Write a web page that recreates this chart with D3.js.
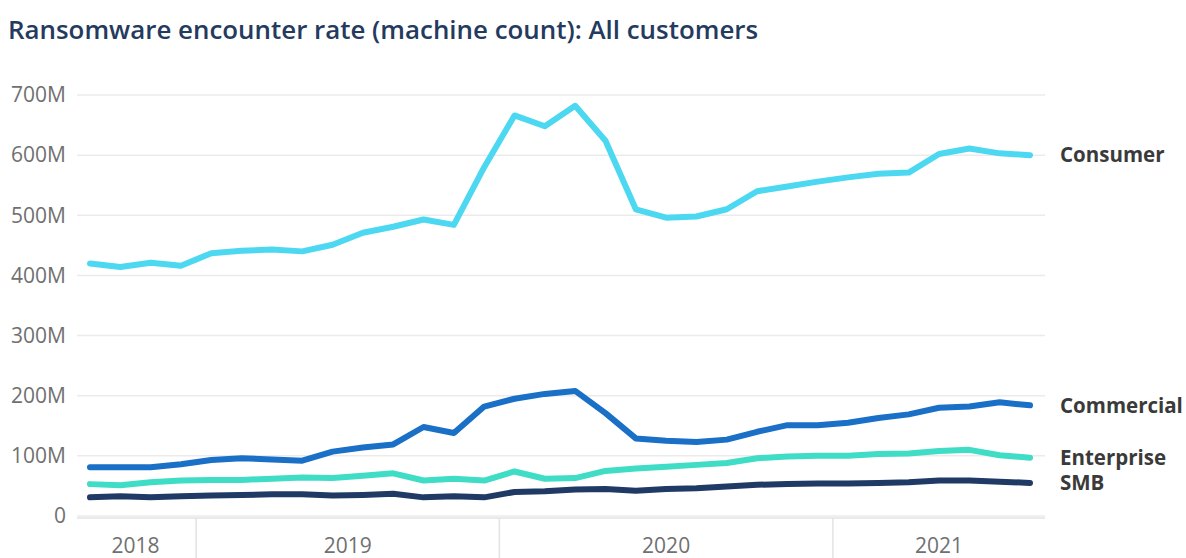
<!DOCTYPE html>
<html>
<head>
<meta charset="utf-8">
<script src="https://cdn.jsdelivr.net/npm/d3@7"></script>
<style>
  body { margin: 0; background: #fff; }
  #chart { width: 1186px; height: 558px; }
  text { font-family: "Open Sans", "Noto Sans", sans-serif; }
</style>
</head>
<body>
<div id="chart"></div>
<script>
// periods grouped by year (as shown on the hierarchical axis)
const periods = [
  "2018-a", "2018-b", "2018-c", "2018-d",
  "2019-a", "2019-b", "2019-c", "2019-d", "2019-e", "2019-f", "2019-g", "2019-h", "2019-i", "2019-j",
  "2020-a", "2020-b", "2020-c", "2020-d", "2020-e", "2020-f", "2020-g", "2020-h", "2020-i", "2020-j", "2020-k",
  "2021-a", "2021-b", "2021-c", "2021-d", "2021-e", "2021-f", "2021-g"
];
const years = ["2018", "2019", "2020", "2021"];

// values in millions of machines
const consumer = [420, 414, 421, 416, 437, 441, 443, 440, 451, 471, 481, 493, 484, 580, 666, 648,
  682, 624, 510, 496, 498, 510, 540, 548, 556, 563, 569, 571, 602, 611, 603, 600];
const commercial = [81, 81, 81, 86, 93, 96, 94, 92, 107, 114, 119, 148, 138, 182, 195, 203,
  208, 171, 129, 125, 123, 127, 140, 151, 151, 155, 163, 169, 180, 182, 189, 184];
const enterprise = [53, 51, 56, 59, 60, 60, 62, 64, 63, 67, 71, 59, 62, 59, 74, 62,
  63, 75, 79, 82, 85, 88, 96, 99, 100, 100, 103, 104, 108, 110, 101, 97];
const smb = [31, 33, 31, 33, 34, 35, 36, 36, 34, 35, 37, 31, 33, 31, 40, 41,
  44, 45, 42, 45, 46, 49, 52, 53, 54, 54, 55, 56, 59, 59, 57, 55];

const seriesNames = ["Consumer", "Commercial", "Enterprise", "SMB"];
const seriesValues = [consumer, commercial, enterprise, smb];
const seriesColors = ["#4dd8f2", "#1a6fc6", "#3fdcc6", "#1f3a64"];
const yTicks = [0, 100, 200, 300, 400, 500, 600, 700];

const width = 1186, height = 558;
const plot = { left: 77, right: 1045, top: 95, bottom: 516 };

const svg = d3.select("#chart").append("svg")
  .attr("width", width)
  .attr("height", height);

svg.append("text")
  .attr("x", 8)
  .attr("y", 39)
  .attr("fill", "#243a5e")
  .attr("font-size", 25.9)
  .attr("font-weight", 600)
  .text("Ransomware encounter rate (machine count): All customers");

const x = d3.scalePoint().domain(periods).range([90, 1030]);
const y = d3.scaleLinear().domain([0, 700]).range([plot.bottom, plot.top]);

// gridlines + y labels
const yAxis = svg.append("g");
yAxis.selectAll("line").data(yTicks).join("line")
  .attr("x1", plot.left).attr("x2", plot.right)
  .attr("y1", (d) => y(d)).attr("y2", (d) => y(d))
  .attr("stroke", "#ebebeb")
  .attr("stroke-width", 1.5);
yAxis.selectAll("text").data(yTicks).join("text")
  .attr("x", 66)
  .attr("y", (d) => y(d))
  .attr("dy", "0.35em")
  .attr("text-anchor", "end")
  .attr("fill", "#707070")
  .attr("font-size", 21)
  .text((d) => (d === 0 ? "0" : d + "M"));

// year axis
const step = x.step();
const groups = years.map((yr) => {
  const ps = periods.filter((p) => p.startsWith(yr));
  return { year: yr, first: x(ps[0]), last: x(ps[ps.length - 1]) };
});
const xAxis = svg.append("g");
xAxis.append("line")
  .attr("x1", plot.left).attr("x2", plot.right)
  .attr("y1", 518).attr("y2", 518)
  .attr("stroke", "#e3e3e3")
  .attr("stroke-width", 1.5);
xAxis.selectAll("line.sep").data(groups.slice(1)).join("line")
  .attr("class", "sep")
  .attr("x1", (d) => d.first - step / 2).attr("x2", (d) => d.first - step / 2)
  .attr("y1", 518).attr("y2", 558)
  .attr("stroke", "#e3e3e3")
  .attr("stroke-width", 1.5);
xAxis.selectAll("text").data(groups).join("text")
  .attr("x", (d) => (d.first + d.last) / 2)
  .attr("y", 553)
  .attr("text-anchor", "middle")
  .attr("fill", "#707070")
  .attr("font-size", 21)
  .text((d) => d.year);

// lines
const line = d3.line()
  .x((d, i) => x(periods[i]))
  .y((d) => y(d));

svg.append("g").selectAll("path").data(seriesValues.slice().reverse()).join("path")
  .attr("fill", "none")
  .attr("stroke", (d, i) => seriesColors[seriesColors.length - 1 - i])
  .attr("stroke-width", 6)
  .attr("stroke-linejoin", "round")
  .attr("stroke-linecap", "round")
  .attr("d", line);

// end labels
svg.append("g").selectAll("text").data(seriesNames).join("text")
  .attr("x", 1060)
  .attr("y", (d, i) => y(seriesValues[i][seriesValues[i].length - 1]))
  .attr("dy", "0.35em")
  .attr("fill", "#3a3a3a")
  .attr("font-size", 20.5)
  .attr("font-weight", 700)
  .text((d) => d);
</script>
</body>
</html>
